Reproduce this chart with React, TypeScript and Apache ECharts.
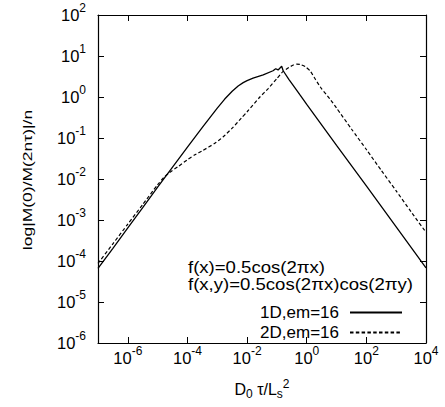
import React, { useEffect, useRef } from "react";
import * as echarts from "echarts";

// log10(D0 tau / Ls^2) and log10(|M(0)/M(2n tau)|/n)
const oneD_logTau = [-7, -6.5, -6, -5.5, -5, -4.5, -4, -3.5, -3, -2.75, -2.5, -2.3, -2.13, -2, -1.8, -1.46, -1.13, -1.04, -0.96, -0.84, -0.79, -0.6, -0.4, -0.226, 0, 1, 2, 3, 4];
const oneD_logM = [-4.18, -3.69, -3.19, -2.7, -2.2, -1.71, -1.22, -0.74, -0.27, -0.05, 0.14, 0.27, 0.35, 0.4, 0.46, 0.54, 0.64, 0.69, 0.66, 0.75, 0.64, 0.43, 0.23, 0.05, -0.18, -1.18, -2.17, -3.17, -4.17];

const twoD_logTau = [-7, -6.5, -6, -5.5, -5, -4.8, -4.6, -4.3, -4, -3.75, -3.5, -3.08, -2.8, -2.5, -2.2, -2, -1.57, -1.3, -1, -0.8, -0.6, -0.45, -0.34, -0.2, -0.05, 0.11, 0.3, 0.5, 0.78, 1, 1.5, 2, 2.5, 3, 3.5, 4];
const twoD_logM = [-4.06, -3.58, -3.1, -2.62, -2.14, -1.97, -1.84, -1.69, -1.53, -1.41, -1.31, -1.13, -0.97, -0.76, -0.52, -0.36, 0.0, 0.2, 0.45, 0.62, 0.72, 0.78, 0.8, 0.79, 0.74, 0.64, 0.42, 0.2, -0.05, -0.27, -0.78, -1.28, -1.79, -2.29, -2.8, -3.3];

const xTickExps = [-6, -4, -2, 0, 2, 4];
const seriesNames = ["1D,em=16", "2D,em=16"];
const notes = ["f(x)=0.5cos(2\u03c0x)", "f(x,y)=0.5cos(2\u03c0x)cos(2\u03c0y)"];
const yTitle = "log|M(0)/M(2n\u03c4)|/n";

const FONT = "'Liberation Sans', Arial, Helvetica, sans-serif";

const powRich = {
  b: { fontSize: 16.5, lineHeight: 16, verticalAlign: "bottom", fontFamily: FONT, color: "#000" },
  s: { fontSize: 12, lineHeight: 12, verticalAlign: "bottom", padding: [0, 0, 9, 0], fontFamily: FONT, color: "#000" },
};
const powFmt = (v: number) => `{b|10}{s|${Math.round(v)}}`;

export default function App() {
  const ref = useRef<HTMLDivElement>(null);
  useEffect(() => {
    document.body.style.margin = "0";
    if (!ref.current) return;
    const chart = echarts.init(ref.current, null, { renderer: "svg" });
    const axisLine = { show: true, onZero: false, lineStyle: { color: "#000", width: 1.2 } };
    const tick = { show: true, inside: true, length: 6, lineStyle: { color: "#000", width: 1 } };
    chart.setOption({
      animation: false,
      backgroundColor: "#fff",
      grid: { left: 98, top: 15, right: 19, bottom: 64, containLabel: false },
      legend: {
        data: seriesNames,
        orient: "vertical",
        right: 42,
        top: 304,
        align: "right",
        itemWidth: 52,
        itemHeight: 14,
        itemGap: 3,
        padding: 0,
        itemStyle: { color: "rgba(0,0,0,0)", borderWidth: 0, opacity: 0 },
        textStyle: { fontSize: 17, fontFamily: FONT, color: "#000", padding: [0, 6, 0, 0] },
      },
      xAxis: [
        {
          type: "value",
          min: -7,
          max: 4,
          position: "bottom",
          axisLine,
          splitLine: { show: false },
          axisTick: { ...tick, customValues: xTickExps },
          axisLabel: { show: true, margin: 7, customValues: xTickExps, formatter: powFmt, rich: powRich },
          name: "{n|D}{sub|0}{n| \u03c4/L}{sub|s}{sup|2}",
          nameLocation: "middle",
          nameGap: 38,
          nameTextStyle: {
            rich: {
              n: { fontSize: 16, lineHeight: 16, verticalAlign: "middle", fontFamily: FONT, color: "#000" },
              sub: { fontSize: 12, lineHeight: 12, padding: [10, 0, 0, 0], verticalAlign: "middle", fontFamily: FONT, color: "#000" },
              sup: { fontSize: 12, lineHeight: 12, padding: [0, 0, 11, 0], verticalAlign: "middle", fontFamily: FONT, color: "#000" },
            },
          },
        },
        {
          type: "value",
          min: -7,
          max: 4,
          position: "top",
          axisLine,
          splitLine: { show: false },
          axisTick: { ...tick, customValues: xTickExps },
          axisLabel: { show: false },
        },
      ],
      yAxis: [
        {
          type: "value",
          min: -6,
          max: 2,
          interval: 1,
          position: "left",
          axisLine,
          splitLine: { show: false },
          axisTick: tick,
          axisLabel: { show: true, margin: 12, formatter: powFmt, rich: powRich },
        },
        {
          type: "value",
          min: -6,
          max: 2,
          interval: 1,
          position: "right",
          axisLine,
          splitLine: { show: false },
          axisTick: tick,
          axisLabel: { show: false },
        },
      ],
      graphic: [
        {
          type: "text",
          x: 27,
          y: 180,
          rotation: Math.PI / 2,
          scaleX: 1.4,
          style: { text: yTitle, fontSize: 12.5, fontFamily: FONT, fill: "#000", align: "center", verticalAlign: "middle" },
        },
        {
          type: "text",
          x: 188,
          y: 267,
          scaleX: 1.16,
          style: { text: notes[0], fontSize: 16, fontFamily: FONT, fill: "#000", align: "left", verticalAlign: "middle" },
        },
        {
          type: "text",
          x: 188,
          y: 284,
          scaleX: 1.16,
          style: { text: notes[1], fontSize: 16, fontFamily: FONT, fill: "#000", align: "left", verticalAlign: "middle" },
        },
      ],
      series: [
        {
          name: seriesNames[0],
          type: "line",
          xAxisIndex: 0,
          yAxisIndex: 0,
          data: oneD_logTau.map((x, i) => [x, oneD_logM[i]]),
          symbol: "none",
          smooth: false,
          lineStyle: { color: "#000", width: 1.3, type: "solid" },
          itemStyle: { color: "#000" },
        },
        {
          name: seriesNames[1],
          type: "line",
          xAxisIndex: 0,
          yAxisIndex: 0,
          data: twoD_logTau.map((x, i) => [x, twoD_logM[i]]),
          symbol: "none",
          smooth: 0.2,
          lineStyle: { color: "#000", width: 1.2, type: [3.5, 2.3] },
          itemStyle: { color: "#000" },
        },
      ],
    });
    return () => chart.dispose();
  }, []);
  return <div ref={ref} style={{ width: 445, height: 407 }} />;
}
